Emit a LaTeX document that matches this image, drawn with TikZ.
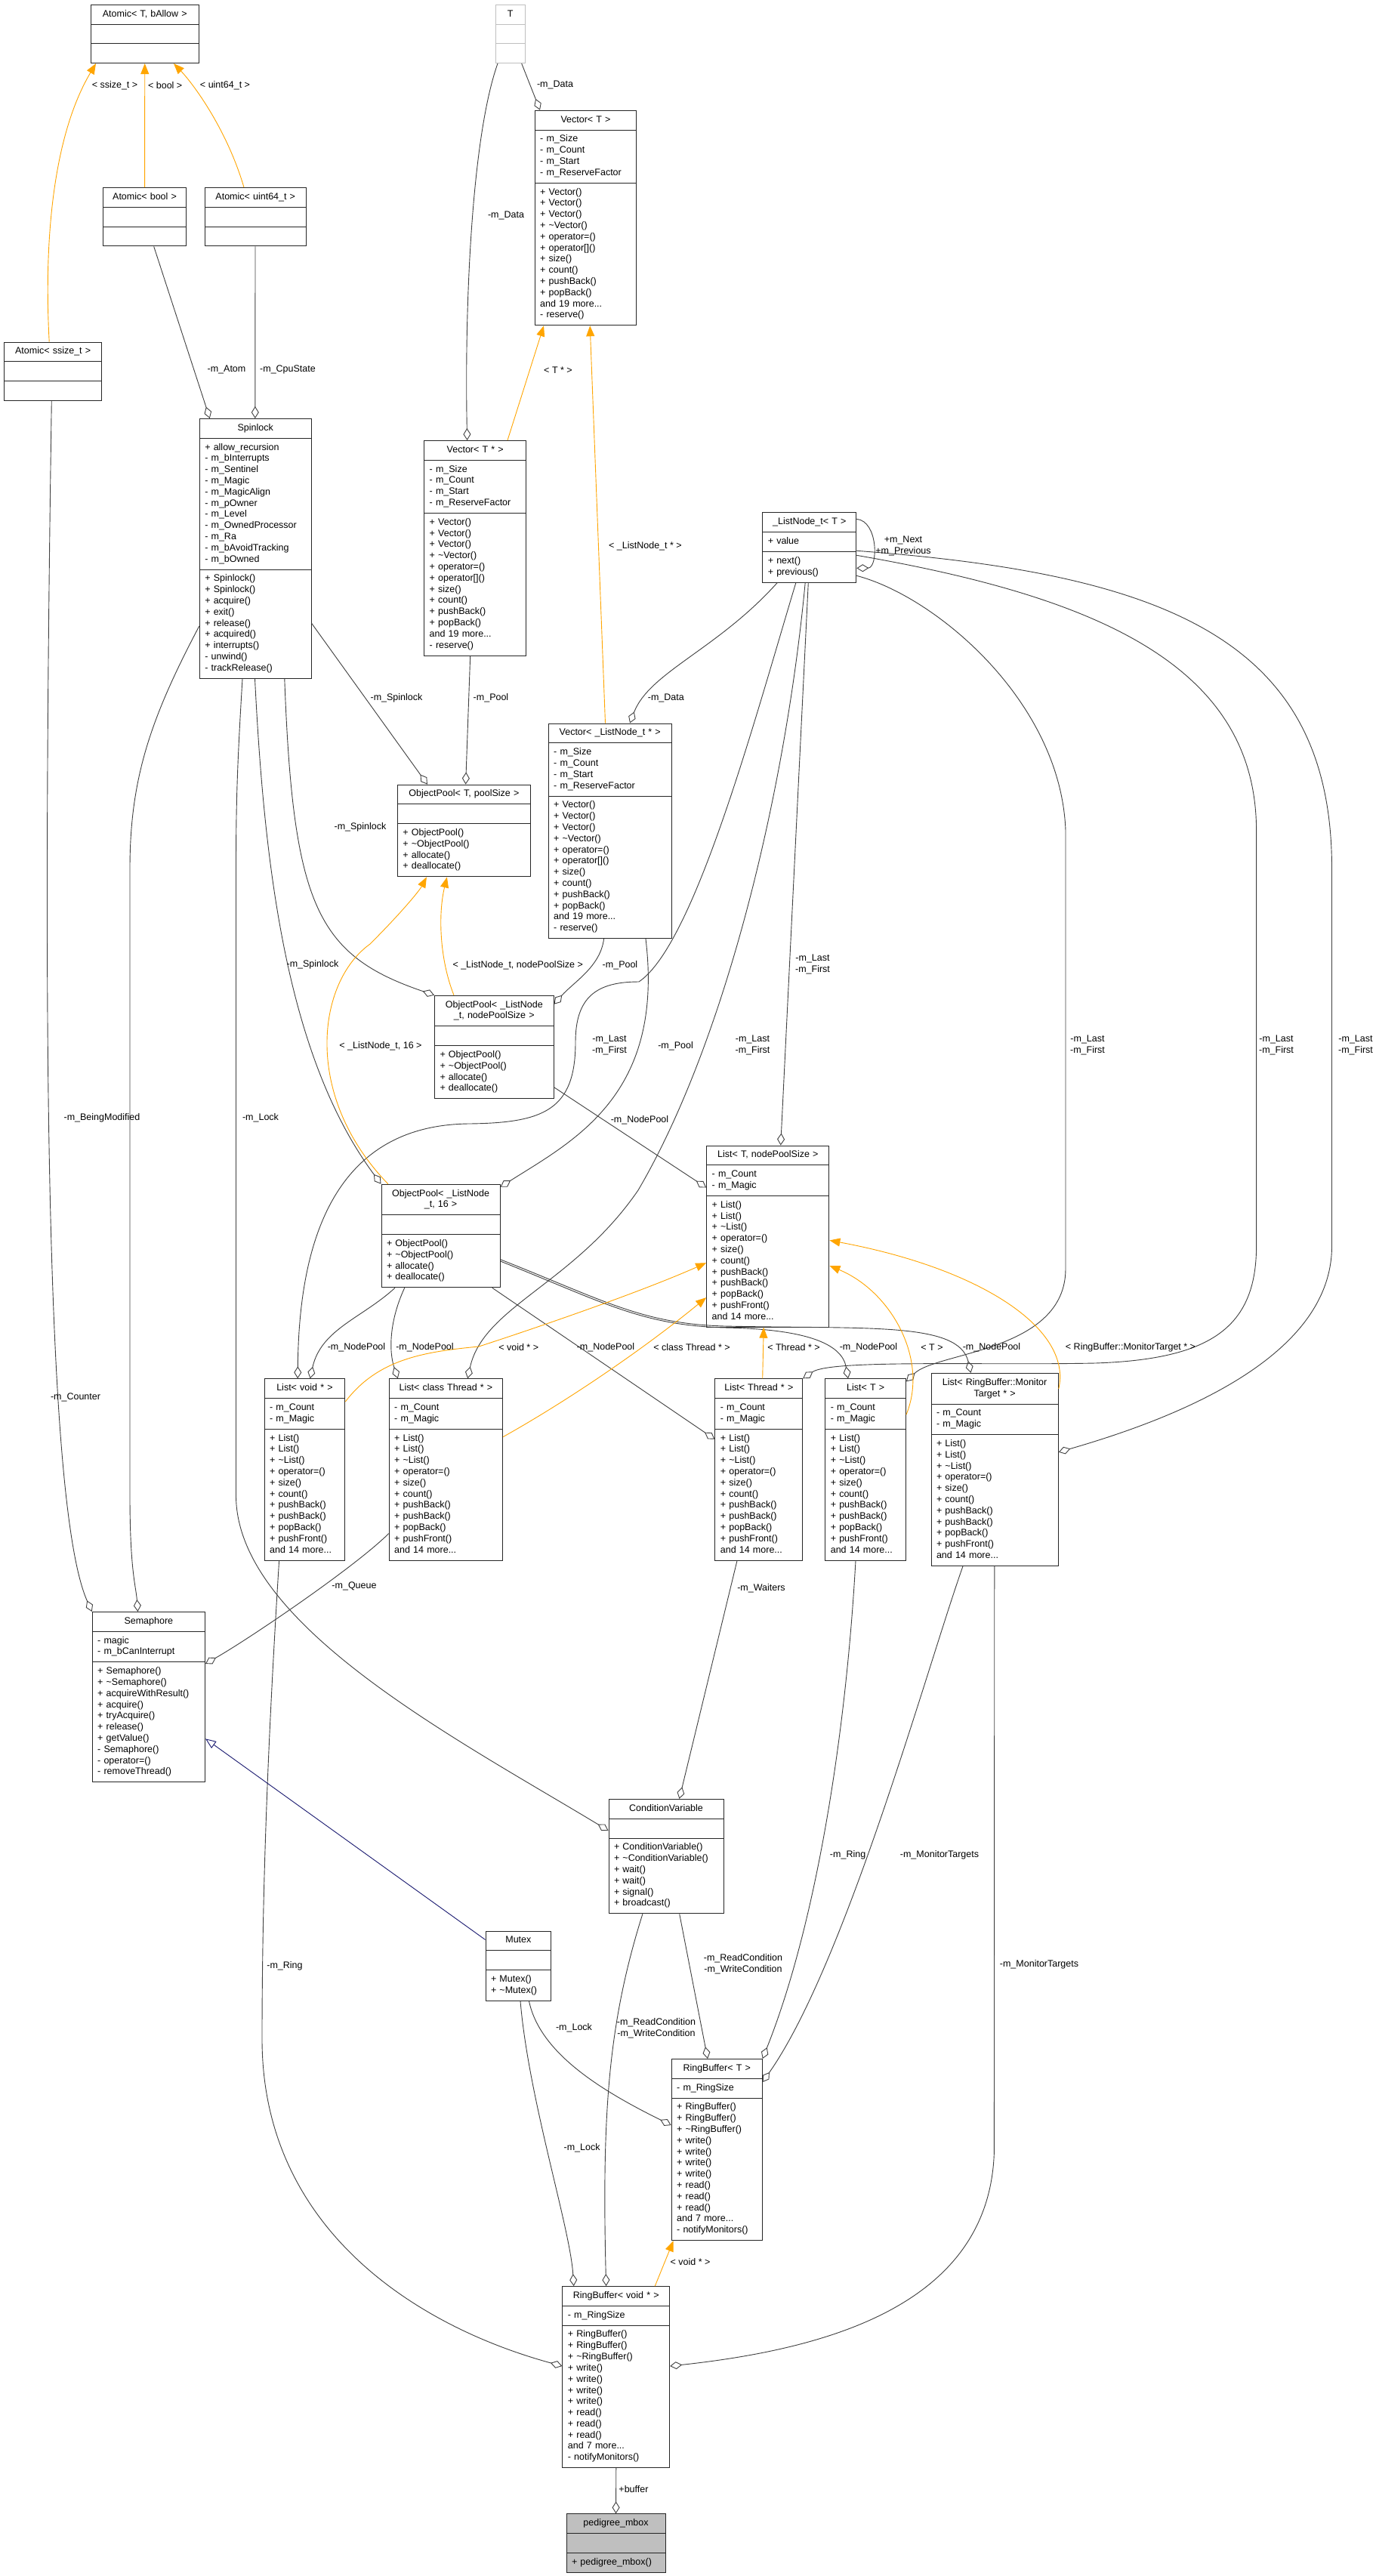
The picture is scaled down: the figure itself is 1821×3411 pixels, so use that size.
\documentclass[tikz,border=0pt]{standalone}
\usepackage{fontspec}
\setmainfont{Liberation Sans}
\usetikzlibrary{shapes.multipart,arrows.meta}

\definecolor{edgegray}{HTML}{404040}
\definecolor{tmplorange}{HTML}{FFA500}
\definecolor{inhblue}{HTML}{191970}
\definecolor{boxgray}{HTML}{BFBFBF}

% centred class name line, and member blocks shared by several classes
\newcommand{\ctitle}[1]{\hbox to\hsize{\hss\strut#1\hss}}
\newcommand{\vecattrs}{\strut - m\_Size\\- m\_Count\\- m\_Start\\- m\_ReserveFactor\strut}
\newcommand{\vecmethods}{\strut + Vector()\\+ Vector()\\+ Vector()\\+ \textasciitilde Vector()\\+ operator=()\\+ operator[]()\\+ size()\\+ count()\\+ pushBack()\\+ popBack()\\and 19 more...\\- reserve()\strut}
\newcommand{\poolmethods}{\strut + ObjectPool()\\+ \textasciitilde ObjectPool()\\+ allocate()\\+ deallocate()\strut}
\newcommand{\listattrs}{\strut - m\_Count\\- m\_Magic\strut}
\newcommand{\listmethods}{\strut + List()\\+ List()\\+ \textasciitilde List()\\+ operator=()\\+ size()\\+ count()\\+ pushBack()\\+ pushBack()\\+ popBack()\\+ pushFront()\\and 14 more...\strut}
\newcommand{\ringmethods}{\strut + RingBuffer()\\+ RingBuffer()\\+ \textasciitilde RingBuffer()\\+ write()\\+ write()\\+ write()\\+ write()\\+ read()\\+ read()\\+ read()\\and 7 more...\\- notifyMonitors()\strut}

\begin{document}
\begin{tikzpicture}[x=1pt, y=-1pt, font=\fontsize{12.5pt}{14.8pt}\selectfont]
  \tikzset{
    cls/.style={rectangle split, rectangle split parts=3, draw=black!85, line width=1pt, fill=white,
      anchor=north west, inner xsep=7pt, inner ysep=5pt, align=left},
    agg/.style={draw=edgegray, line width=0.9pt, -{Diamond[open,length=16pt,width=10pt]}},
    tmpl/.style={draw=tmplorange, line width=0.9pt, -{Triangle[length=14pt,width=11pt,fill=tmplorange]}},
    inh/.style={draw=inhblue, line width=0.9pt, -{Triangle[open,length=14pt,width=11pt]}},
    lbl/.style={inner sep=0pt, align=center}
  }
  \useasboundingbox[fill=white] (0,0) rectangle (1821,3411);

  % classes
  \node[cls, text width=128.5pt] (atomT) at (120,5.7) {\ctitle{Atomic< T, bAllow >}\nodepart{two}\strut\nodepart{three}\strut};
  \node[cls, text width=96.7pt] (atomBool) at (135.7,248) {\ctitle{Atomic< bool >}\nodepart{two}\strut\nodepart{three}\strut};
  \node[cls, text width=119.5pt] (atomU64) at (271,248) {\ctitle{Atomic< uint64\_t >}\nodepart{two}\strut\nodepart{three}\strut};
  \node[cls, text width=115.5pt] (atomSsz) at (4.9,452.5) {\ctitle{Atomic< ssize\_t >}\nodepart{two}\strut\nodepart{three}\strut};
  \node[cls, text width=25pt, draw=boxgray] (tparam) at (655.7,5.7) {\ctitle{T}\nodepart{two}\strut\nodepart{three}\strut};
  \node[cls, text width=120.6pt] (vecT) at (707.7,145.7) {\ctitle{Vector< T >}\nodepart{two}\vecattrs\nodepart{three}\vecmethods};
  \node[cls, text width=133.8pt] (spin) at (263.8,554) {\ctitle{Spinlock}
    \nodepart{two}\strut + allow\_recursion\\- m\_bInterrupts\\- m\_Sentinel\\- m\_Magic\\- m\_MagicAlign\\- m\_pOwner\\- m\_Level\\- m\_OwnedProcessor\\- m\_Ra\\- m\_bAvoidTracking\\- m\_bOwned\strut
    \nodepart{three}\strut + Spinlock()\\+ Spinlock()\\+ acquire()\\+ exit()\\+ release()\\+ acquired()\\+ interrupts()\\- unwind()\\- trackRelease()\strut};
  \node[cls, text width=121pt] (vecTp) at (561.2,583) {\ctitle{Vector< T * >}\nodepart{two}\vecattrs\nodepart{three}\vecmethods};
  \node[cls, text width=162pt] (opT) at (525.9,1038.6) {\ctitle{ObjectPool< T, poolSize >}\nodepart{two}\strut\nodepart{three}\poolmethods};
  \node[cls, text width=149pt] (vecLN) at (725.7,957.5) {\ctitle{Vector< \_ListNode\_t * >}\nodepart{two}\vecattrs\nodepart{three}\vecmethods};
  \node[cls, text width=110pt] (lnode) at (1009.3,678.3) {\ctitle{\_ListNode\_t< T >}\nodepart{two}\strut + value\strut\nodepart{three}\strut + next()\\+ previous()\strut};
  \node[cls, text width=143.6pt] (opNPS) at (575,1317.7) {\ctitle{ObjectPool< \_ListNode}\\\ctitle{\_t, nodePoolSize >}\nodepart{two}\strut\nodepart{three}\poolmethods};
  \node[cls, text width=148.2pt] (listNPS) at (935.2,1516.5) {\ctitle{List< T, nodePoolSize >}\nodepart{two}\listattrs\nodepart{three}\listmethods};
  \node[cls, text width=143.1pt] (op16) at (504.5,1567.7) {\ctitle{ObjectPool< \_ListNode}\\\ctitle{\_t, 16 >}\nodepart{two}\strut\nodepart{three}\poolmethods};
  \node[cls, text width=92.7pt] (listVoid) at (349.6,1825.3) {\ctitle{List< void * >}\nodepart{two}\listattrs\nodepart{three}\listmethods};
  \node[cls, text width=136.5pt] (listCT) at (514.7,1825.3) {\ctitle{List< class Thread * >}\nodepart{two}\listattrs\nodepart{three}\listmethods};
  \node[cls, text width=101.8pt] (listThr) at (946.4,1825.3) {\ctitle{List< Thread * >}\nodepart{two}\listattrs\nodepart{three}\listmethods};
  \node[cls, text width=92.7pt] (listT) at (1092.3,1825.3) {\ctitle{List< T >}\nodepart{two}\listattrs\nodepart{three}\listmethods};
  \node[cls, text width=154.3pt] (listMT) at (1232.5,1817.9) {\ctitle{List< RingBuffer::Monitor}\\\ctitle{Target * >}\nodepart{two}\listattrs\nodepart{three}\listmethods};
  \node[cls, text width=135.3pt] (sem) at (121.7,2134) {\ctitle{Semaphore}
    \nodepart{two}\strut - magic\\- m\_bCanInterrupt\strut
    \nodepart{three}\strut + Semaphore()\\+ \textasciitilde Semaphore()\\+ acquireWithResult()\\+ acquire()\\+ tryAcquire()\\+ release()\\+ getValue()\\- Semaphore()\\- operator=()\\- removeThread()\strut};
  \node[cls, text width=138.1pt] (cv) at (805.5,2381.9) {\ctitle{ConditionVariable}\nodepart{two}\strut
    \nodepart{three}\strut + ConditionVariable()\\+ \textasciitilde ConditionVariable()\\+ wait()\\+ wait()\\+ signal()\\+ broadcast()\strut};
  \node[cls, text width=72.7pt] (mutex) at (642.5,2556.5) {\ctitle{Mutex}\nodepart{two}\strut\nodepart{three}\strut + Mutex()\\+ \textasciitilde Mutex()\strut};
  \node[cls, text width=106pt] (rbT) at (888.7,2726) {\ctitle{RingBuffer< T >}\nodepart{two}\strut - m\_RingSize\strut\nodepart{three}\ringmethods};
  \node[cls, text width=127.8pt] (rbVoid) at (744.4,3027) {\ctitle{RingBuffer< void * >}\nodepart{two}\strut - m\_RingSize\strut\nodepart{three}\ringmethods};
  \node[cls, text width=117.1pt, fill=boxgray] (mbox) at (749.5,3328.3) {\ctitle{pedigree\_mbox}\nodepart{two}\strut\nodepart{three}\strut + pedigree\_mbox()\strut};

  % aggregation (diamond at the owning class)
  \draw[agg] ([xshift=68pt]atomBool.south west) -- ([xshift=14pt]spin.north west);
  \draw[agg] ([xshift=67pt]atomU64.south west) -- ([xshift=74pt]spin.north west);
  \draw[agg] ([xshift=63.4pt]atomSsz.south west) .. controls (55,1400) and (62,2000) .. (sem.north west);
  \draw[agg] ([xshift=3.3pt]tparam.south west) .. controls (625,180) and (615,400) .. ([xshift=57.4pt]vecTp.north west);
  \draw[agg] ([xshift=35pt]tparam.south west) -- ([xshift=7.3pt]vecT.north west);
  \draw[agg] ([xshift=61.5pt]vecTp.south west) -- ([xshift=90.7pt]opT.north west);
  \draw[agg] ([yshift=-271.3pt]spin.north east) -- ([xshift=40pt]opT.north west);
  \draw[agg] ([xshift=20pt]lnode.south west) .. controls (950,860) and (860,890) .. ([xshift=108.3pt]vecLN.north west);
  \draw[agg] ([xshift=113pt]spin.south west) .. controls (388,1200) and (420,1265) .. (opNPS.north west);
  \draw[agg] ([xshift=73.9pt]vecLN.south west) .. controls (795,1280) and (760,1300) .. ([yshift=-12pt]opNPS.north east);
  \draw[agg] ([xshift=73.7pt]spin.south west) .. controls (350,1150) and (380,1400) .. (op16.north west);
  \draw[agg] ([xshift=129.3pt]vecLN.south west) .. controls (880,1450) and (760,1510) .. ([yshift=-4pt]op16.north east);
  \draw[agg] ([xshift=61pt]lnode.south west) -- ([xshift=98.5pt]listNPS.north west);
  \draw[agg] ([yshift=-122pt]opNPS.north east) -- ([yshift=-56pt]listNPS.north west);
  \draw[agg] ([xshift=44.6pt]lnode.south west) .. controls (1000,950) and (920,1250) .. (846,1300)
    .. controls (790,1300) and (762,1320) .. (762,1380) .. controls (762,1470) and (720,1487) .. (620,1488)
    .. controls (470,1490) and (396,1600) .. ([xshift=44.6pt]listVoid.north west);
  \draw[agg] ([xshift=18.5pt]op16.south west) .. controls (480,1745) and (425,1760) .. ([xshift=61pt]listVoid.north west);
  \draw[agg] ([xshift=56.9pt]lnode.south west) .. controls (1040,1050) and (960,1380) .. (845,1576)
    .. controls (760,1700) and (640,1730) .. ([xshift=104.5pt]listCT.north west);
  \draw[agg] ([xshift=31.2pt]op16.south west) .. controls (515,1750) and (515,1790) .. ([xshift=12.1pt]listCT.north west);
  \draw[agg] ([xshift=147.3pt]op16.south west) -- ([yshift=-80.4pt]listThr.north west);
  \draw[agg] ([yshift=-57pt]lnode.north east) .. controls (1450,790) and (1663.6,880) .. (1663.6,1100) -- (1663.6,1650)
    .. controls (1663.6,1760) and (1600,1800) .. (1450,1805) .. controls (1300,1808) and (1100,1800) .. (listThr.north east);
  \draw[agg] ([yshift=-102.3pt]op16.north east) .. controls (800,1725) and (850,1755) .. (960,1758)
    .. controls (1070,1760) and (1115,1780) .. ([xshift=30.7pt]listT.north west);
  \draw[agg] ([yshift=-84pt]lnode.north east) .. controls (1240,790) and (1405,930) .. (1411,1100) -- (1411,1680)
    .. controls (1411,1790) and (1240,1790) .. ([yshift=-4pt]listT.north east);
  \draw[agg] ([yshift=-100pt]op16.north east) .. controls (800,1722) and (850,1753) .. (960,1756)
    .. controls (1150,1760) and (1270,1750) .. ([xshift=53pt]listMT.north west);
  \draw[agg] ([yshift=-51pt]lnode.north east) .. controls (1550,760) and (1763.5,850) .. (1763.5,1150) -- (1763.5,1650)
    .. controls (1763.5,1800) and (1550,1880) .. ([yshift=-104.9pt]listMT.north east);
  \draw[agg] ([yshift=-9pt]lnode.north east) .. controls (1163,690) and (1163,752) .. ([yshift=-74pt]lnode.north east);
  \draw[agg] ([yshift=-275pt]spin.north west) .. controls (200,950) and (172,1030) .. (172,1150) -- (172,1980)
    .. controls (172,2080) and (180,2100) .. ([xshift=60.8pt]sem.north west);
  \draw[agg] ([xshift=57.2pt]spin.south west) .. controls (315,1000) and (312.5,1050) .. (312.5,1150) -- (312.5,1980)
    .. controls (312.5,2150) and (600,2300) .. ([yshift=-42pt]cv.north west);
  \draw[agg] ([yshift=-205.3pt]listCT.north west) .. controls (470,2075) and (330,2170) .. ([yshift=-69pt]sem.north east);
  \draw[agg] ([xshift=29.6pt]listThr.south west) -- ([xshift=94pt]cv.north west);
  \draw[agg] ([xshift=94.2pt]cv.south west) -- ([xshift=48.3pt]rbT.north west);
  \draw[agg] ([xshift=45.4pt]cv.south west) .. controls (805,2680) and (797,2800) .. ([xshift=58.2pt]rbVoid.north west);
  \draw[agg] ([xshift=58pt]mutex.south west) .. controls (715,2720) and (800,2770) .. ([yshift=-88pt]rbT.north west);
  \draw[agg] ([xshift=46.5pt]mutex.south west) .. controls (700,2780) and (755,2950) .. ([xshift=15.3pt]rbVoid.north west);
  \draw[agg] ([xshift=40.7pt]listT.south west) .. controls (1120,2300) and (1080,2550) .. (rbT.north east);
  \draw[agg] ([xshift=42.5pt]listMT.south west) .. controls (1230,2200) and (1120,2600) .. ([yshift=-31pt]rbT.north east);
  \draw[agg] ([xshift=20pt]listVoid.south west) .. controls (355,2300) and (347,2500) .. (347,2700)
    .. controls (347,2950) and (550,3080) .. ([yshift=-106pt]rbVoid.north west);
  \draw[agg] ([xshift=84.3pt]listMT.south west) -- (1316.4,2850) .. controls (1310,3050) and (1100,3110) .. ([yshift=-106pt]rbVoid.north east);
  \draw[agg] (rbVoid.south) -- (mbox.north);

  % template instances
  \draw[tmpl] ([xshift=60.3pt]atomSsz.north west) .. controls (58,320) and (70,180) .. ([xshift=7pt]atomT.south west);
  \draw[tmpl] (atomBool.north) -- (atomT.south);
  \draw[tmpl] ([xshift=52pt]atomU64.north west) .. controls (300,170) and (255,110) .. ([xshift=110pt]atomT.south west);
  \draw[tmpl] ([xshift=110.8pt]vecTp.north west) -- ([xshift=12.3pt]vecT.south west);
  \draw[tmpl] ([xshift=75.8pt]vecLN.north west) -- ([xshift=73.5pt]vecT.south west);
  \draw[tmpl] ([xshift=26pt]opNPS.north west) .. controls (582,1270) and (580,1210) .. ([xshift=66pt]opT.south west);
  \draw[tmpl] ([xshift=9.3pt]op16.north west) .. controls (400,1450) and (420,1300) .. (490,1250)
    .. controls (530,1210) and (555,1180) .. ([xshift=39pt]opT.south west);
  \draw[tmpl] ([yshift=-30.7pt]listVoid.north east) .. controls (500,1800) and (560,1790) .. (634,1783)
    .. controls (720,1755) and (850,1710) .. ([yshift=-155.7pt]listNPS.north west);
  \draw[tmpl] ([yshift=-77.3pt]listCT.north east) .. controls (760,1850) and (860,1780) .. ([yshift=-201.6pt]listNPS.north west);
  \draw[tmpl] ([xshift=63.3pt]listThr.north west) -- ([xshift=76pt]listNPS.south west);
  \draw[tmpl] ([yshift=-47.8pt]listT.north east) .. controls (1230,1800) and (1180,1710) .. ([yshift=-159.5pt]listNPS.north east);
  \draw[tmpl] ([yshift=-21pt]listMT.north east) .. controls (1420,1760) and (1300,1680) .. ([yshift=-125.9pt]listNPS.north east);
  \draw[tmpl] ([xshift=122.9pt]rbVoid.north west) -- ([xshift=2.9pt]rbT.south west);

  % inheritance
  \draw[inh] ([yshift=-11.9pt]mutex.north west) -- ([yshift=-168.3pt]sem.north east);

  % edge labels
  \node[lbl] (lSsz) at (152,113) {< ssize\_t >};
  \node[lbl] (lBool) at (218.7,113) {< bool >};
  \node[lbl] (lU64) at (298,113) {< uint64\_t >};
  \node[lbl] (lAtom) at (300,489) {-m\_Atom};
  \node[lbl] (lCpu) at (381,489) {-m\_CpuState};
  \node[lbl] (lCounter) at (100,1850) {-m\_Counter};
  \node[lbl] (lData1) at (670,285.7) {-m\_Data};
  \node[lbl] (lData2) at (735,112.7) {-m\_Data};
  \node[lbl] (lTp) at (739,490) {< T * >};
  \node[lbl] (lLNp) at (854.5,723) {< \_ListNode\_t * >};
  \node[lbl] (lNext) at (1196,723) {+m\_Next\\+m\_Previous};
  \node[lbl] (lSpin1) at (525,924) {-m\_Spinlock};
  \node[lbl] (lPool1) at (650,924) {-m\_Pool};
  \node[lbl] (lData3) at (881.8,924.3) {-m\_Data};
  \node[lbl] (lSpin2) at (477,1095) {-m\_Spinlock};
  \node[lbl] (lSpin3) at (414,1277) {-m\_Spinlock};
  \node[lbl] (lNPS) at (685.7,1278.3) {< \_ListNode\_t, nodePoolSize >};
  \node[lbl] (lPool2) at (821,1277.7) {-m\_Pool};
  \node[lbl] (lLF1) at (1076,1277) {-m\_Last\\-m\_First};
  \node[lbl] (l16) at (504,1385) {< \_ListNode\_t, 16 >};
  \node[lbl] (lLF2) at (807,1384) {-m\_Last\\-m\_First};
  \node[lbl] (lPool3) at (894.6,1385) {-m\_Pool};
  \node[lbl] (lLF3) at (996.5,1384) {-m\_Last\\-m\_First};
  \node[lbl] (lLF5) at (1440,1384) {-m\_Last\\-m\_First};
  \node[lbl] (lLF4) at (1690,1384) {-m\_Last\\-m\_First};
  \node[lbl] (lLF6) at (1795,1384) {-m\_Last\\-m\_First};
  \node[lbl] (lNP1) at (847,1483) {-m\_NodePool};
  \node[lbl] (lBeing) at (135,1480) {-m\_BeingModified};
  \node[lbl] (lLock1) at (345,1480) {-m\_Lock};
  \node[lbl] (lNP2) at (472,1784.4) {-m\_NodePool};
  \node[lbl] (lNP3) at (562.5,1784.4) {-m\_NodePool};
  \node[lbl] (lVoid1) at (686.7,1784.4) {< void * >};
  \node[lbl] (lNP4) at (802,1784.4) {-m\_NodePool};
  \node[lbl] (lCT) at (916,1784.4) {< class Thread * >};
  \node[lbl] (lThr) at (1051,1784.4) {< Thread * >};
  \node[lbl] (lNP5) at (1150,1784.4) {-m\_NodePool};
  \node[lbl] (lT) at (1234,1784.4) {< T >};
  \node[lbl] (lNP6) at (1313,1784.4) {-m\_NodePool};
  \node[lbl] (lMT) at (1497,1784.4) {< RingBuffer::MonitorTarget * >};
  \node[lbl] (lQueue) at (469,2100.3) {-m\_Queue};
  \node[lbl] (lWait) at (1008,2103) {-m\_Waiters};
  \node[lbl] (lRing1) at (1122.6,2456) {-m\_Ring};
  \node[lbl] (lMT1) at (1244,2456) {-m\_MonitorTargets};
  \node[lbl] (lRC1) at (984,2601) {-m\_ReadCondition\\-m\_WriteCondition};
  \node[lbl] (lMT2) at (1376,2601) {-m\_MonitorTargets};
  \node[lbl] (lRing2) at (377,2603) {-m\_Ring};
  \node[lbl] (lRC2) at (869,2685.7) {-m\_ReadCondition\\-m\_WriteCondition};
  \node[lbl] (lLock2) at (760,2685) {-m\_Lock};
  \node[lbl] (lLock3) at (770.6,2844) {-m\_Lock};
  \node[lbl] (lVoid2) at (914,2995) {< void * >};
  \node[lbl] (lBuf) at (839,3295.7) {+buffer};
\end{tikzpicture}
\end{document}
